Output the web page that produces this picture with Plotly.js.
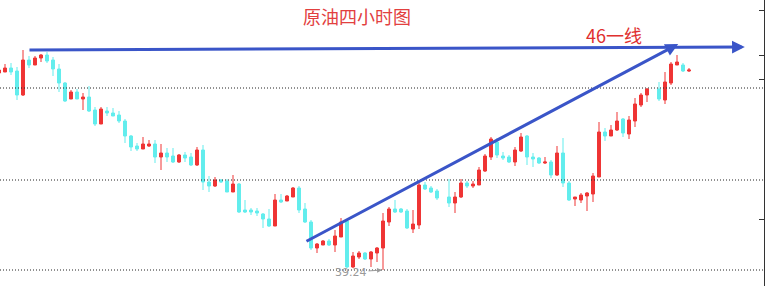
<!DOCTYPE html>
<html>
<head>
<meta charset="utf-8">
<script src="https://cdn.plot.ly/plotly-3.0.1.min.js"></script>
<style>html,body{margin:0;padding:0;background:#fff;}#chart{width:766px;height:286px;}</style>
</head>
<body>
<div id="chart"></div>
<script>
// 4-hour bars (index positions; 74 and 109 are empty slots)
const barIndex = [0,1,2,3,4,5,6,7,8,9,10,11,12,13,14,15,16,17,18,19,20,21,22,23,24,25,26,27,28,29,30,31,32,33,34,35,36,37,38,39,40,41,42,43,44,45,46,47,48,49,50,51,52,53,54,55,56,57,58,59,60,61,62,63,64,65,66,67,68,69,70,71,72,73,75,76,77,78,79,80,81,82,83,84,85,86,87,88,89,90,91,92,93,94,95,96,97,98,99,100,101,102,103,104,105,106,107,108,110,111,112,113,114,115];
const openPx = [45.21,45.24,45.36,45.27,44.55,45.60,45.45,45.66,45.75,45.60,
45.33,44.91,44.43,44.64,44.43,44.49,44.10,43.68,44.07,44.01,
43.95,43.77,43.32,43.02,42.93,43.02,43.08,42.69,42.81,42.72,
42.54,42.75,42.69,42.45,42.90,41.94,41.82,42.00,41.97,41.64,
41.88,41.10,41.10,41.07,40.98,40.83,40.62,41.40,41.37,41.49,
41.76,41.13,40.74,39.96,40.05,40.17,40.05,40.29,40.77,39.39,
39.69,39.81,39.63,39.81,39.96,40.74,41.13,41.13,41.07,40.53,
40.65,41.85,41.76,41.67,
41.49,41.31,41.49,41.91,41.82,41.85,42.27,42.69,43.14,42.72,
42.69,42.54,42.87,43.32,42.69,42.66,42.51,42.54,42.15,42.81,
41.91,41.43,41.40,41.52,41.58,42.09,43.44,43.32,43.50,43.83,
43.38,43.77,44.25,44.55,
44.73,44.40,44.91,45.45,45.45,45.27];
const highPx = [45.36,45.48,45.51,45.39,45.90,45.72,45.72,45.78,45.84,45.69,
45.48,44.94,44.70,44.73,44.61,44.82,44.19,44.19,44.19,44.16,
44.07,43.83,43.35,43.11,43.29,43.20,43.20,43.08,42.96,42.96,
42.78,42.84,42.81,42.99,43.05,42.12,42.09,42.03,42.03,42.15,
41.91,41.40,41.16,41.16,41.01,41.13,41.58,41.58,41.55,41.79,
41.82,41.31,40.80,40.11,40.20,40.23,40.50,40.86,40.80,39.84,
39.87,39.84,39.87,39.99,41.01,41.19,41.40,41.16,41.13,41.10,
41.94,41.94,41.82,41.73,
42.03,41.64,42.03,41.97,41.97,42.39,42.78,43.29,43.26,42.84,
42.75,42.99,43.41,43.35,42.81,42.69,42.69,42.60,43.02,43.26,
41.97,41.49,41.61,41.64,42.21,43.74,43.56,43.65,44.04,43.86,
43.92,44.46,44.61,44.76,
44.94,45.24,45.54,45.75,45.51,45.36];
const lowPx = [45.18,45.24,45.15,44.40,44.52,45.36,45.45,45.54,45.51,45.12,
44.64,44.34,44.43,44.43,44.10,44.04,43.62,43.68,43.92,43.92,
43.71,43.11,42.87,42.87,42.93,42.99,42.51,42.30,42.54,42.51,
42.51,42.54,42.42,42.42,41.70,41.64,41.79,41.91,41.64,41.64,
41.01,41.01,40.95,40.92,40.56,40.59,40.62,41.31,41.37,41.49,
41.01,40.71,39.90,39.81,40.05,40.02,39.84,40.29,39.36,39.36,
39.63,39.60,39.39,39.54,39.30,40.62,41.01,41.01,40.53,40.41,
40.53,41.70,41.61,41.40,
41.19,41.01,41.46,41.76,41.76,41.85,42.24,42.60,42.66,42.60,
42.51,42.42,42.84,42.45,42.39,42.48,42.48,42.06,42.12,41.79,
41.37,41.22,41.31,41.07,41.34,42.09,43.17,43.32,43.47,43.29,
43.23,43.59,44.19,44.34,
44.37,44.28,44.85,45.45,45.24,45.24];
const closePx = [45.30,45.36,45.24,44.55,45.60,45.45,45.66,45.75,45.57,45.33,
44.91,44.37,44.64,44.43,44.49,44.07,43.68,44.13,44.01,43.92,
43.77,43.32,42.99,42.93,43.08,43.08,42.69,42.81,42.69,42.54,
42.75,42.66,42.45,42.90,41.94,41.82,42.00,41.94,41.64,41.88,
41.04,41.04,41.04,41.01,40.83,40.62,41.40,41.34,41.52,41.76,
41.10,40.74,39.96,40.08,40.17,40.05,40.32,40.74,39.39,39.72,
39.81,39.63,39.84,39.96,40.77,41.13,41.04,41.04,40.56,40.68,
41.85,41.73,41.64,41.46,
41.31,41.49,41.91,41.82,41.88,42.30,42.72,43.23,42.75,42.66,
42.54,42.90,43.29,42.69,42.63,42.51,42.54,42.15,42.81,41.91,
41.40,41.49,41.55,41.61,42.12,43.44,43.32,43.50,43.77,43.41,
43.80,44.28,44.55,44.73,
44.43,44.94,45.48,45.54,45.27,45.30];

// dotted horizontal levels and right-axis tick marks (prices)
const dottedLevels = [44.76, 42.00, 39.30];
const axisTicks = [47.10, 45.75, 45.03, 40.83];

// hand-drawn lines: [startIndex, startPrice, endIndex, endPrice]
const level46Line = [4.83, 45.90, 124.3, 45.99];
const trendLine = [51.0, 40.14, 113.2, 46.08];

// text
const chartTitle = '原油四小时图';
const levelLabel = '46一线';
const levelLabelPos = [102.5, 46.36];
const lowLabel = '39.24';
const lowPoint = [64, 39.30];

const blue = '#3a55c8';
const shapes = dottedLevels.map(v => ({
  type: 'line', xref: 'paper', yref: 'y', x0: 0, x1: 1, y0: v, y1: v,
  line: {color: '#222', width: 1, dash: '1px,2px'}
}));

const annotations = [
  {xref: 'paper', yref: 'paper', x: 0.467, y: 1 - 16/286, text: chartTitle, showarrow: false,
   font: {family: 'Noto Sans CJK SC', size: 18, color: '#e2403f'}, xanchor: 'center', yanchor: 'middle'},
  {xref: 'x', yref: 'y', x: levelLabelPos[0], y: levelLabelPos[1], text: levelLabel, showarrow: false,
   font: {family: 'Noto Sans CJK SC', size: 18, color: '#e0302f'}, xanchor: 'center', yanchor: 'middle'},
  {xref: 'x', yref: 'y', axref: 'x', ayref: 'y', x: level46Line[2], y: level46Line[3], ax: level46Line[0], ay: level46Line[1],
   text: '', showarrow: true, arrowhead: 2, arrowsize: 0.85, arrowwidth: 3, arrowcolor: blue},
  {xref: 'x', yref: 'y', axref: 'x', ayref: 'y', x: trendLine[2], y: trendLine[3], ax: trendLine[0], ay: trendLine[1],
   text: '', showarrow: true, arrowhead: 2, arrowsize: 0.85, arrowwidth: 3, arrowcolor: blue},
  {xref: 'x', yref: 'y', x: lowPoint[0], y: lowPoint[1], text: lowLabel, showarrow: true,
   ax: -32, ay: 2, arrowhead: 2, arrowsize: 1, arrowwidth: 1, arrowcolor: '#9a9a9a', standoff: 1,
   font: {family: 'DejaVu Sans', size: 11, color: '#9a9a9a'}}
];

const trace = {
  type: 'candlestick', x: barIndex, open: openPx, high: highPx, low: lowPx, close: closePx,
  increasing: {line: {color: '#ef3434', width: 1}, fillcolor: '#ef3434'},
  decreasing: {line: {color: '#62eded', width: 1}, fillcolor: '#62eded'},
  hoverinfo: 'skip', showlegend: false
};

const layout = {
  width: 766, height: 286,
  margin: {l: 0, r: 2, t: 0, b: 0, pad: 0},
  paper_bgcolor: '#fff', plot_bgcolor: '#fff',
  showlegend: false,
  xaxis: {type: 'linear', range: [0.167, 127.5], visible: false, showgrid: false, zeroline: false,
          rangeslider: {visible: false}, fixedrange: true},
  yaxis: {range: [38.82, 47.40], side: 'right', showgrid: false, zeroline: false,
          showline: true, linecolor: '#333', linewidth: 1, ticks: 'inside', ticklen: 5,
          tickcolor: '#333', tickvals: axisTicks, showticklabels: false, fixedrange: true},
  shapes: shapes,
  annotations: annotations
};

Plotly.newPlot('chart', [trace], layout, {staticPlot: true, displayModeBar: false});
</script>
</body>
</html>
